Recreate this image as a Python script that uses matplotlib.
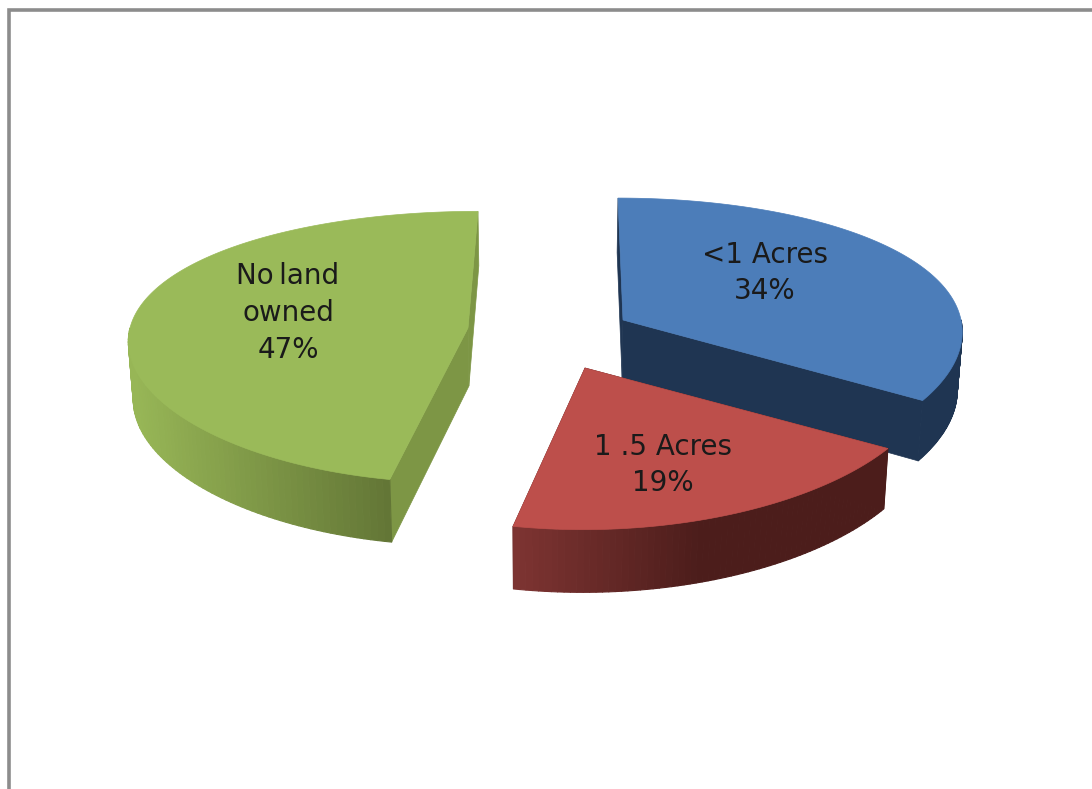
import numpy as np
import matplotlib
matplotlib.use("Agg")
import matplotlib.pyplot as plt
from matplotlib.collections import PolyCollection
from matplotlib.colors import to_rgb

# chart data
categories = ["<1 Acres", "1 .5 Acres", "No\u2009land\nowned"]
shares = [34, 19, 47]

# look of each slice
top_colors = ["#4C7DB9", "#BD4F4B", "#9ABA59"]
face_colors = ["#1F3552", "#4E1E1C", "#7D9645"]
rim_left = ["#1F3552", "#7E3432", "#97B656"]
rim_right = ["#1F3552", "#4C1D1B", "#637636"]
rim_span = [(700, 960), (513, 700), (135, 388)]
apexes = [(623, 320), (585, 368), (468, 328)]
leans = [-5, 2, 10]
heights = [139, 139, 133]
widths = [338, 346, 338]
label_pos = [(765, 273), (663, 465), (288, 313)]

PERSP = 0.14
DEPTH = 58
VANISH_X = 546


def project(i, angle):
    # angle in degrees, clockwise from the back of the pie
    a = np.radians(angle)
    x = np.sin(a)
    y = np.cos(a)
    p = 1 / (1 + PERSP * y)
    px = apexes[i][0] + leans[i] * y + x * (1 + 0.5 * (p - 1)) * widths[i]
    py = apexes[i][1] - y * p * heights[i]
    return px, py, p


def drop(px, py, p):
    # same point on the lower face of the slice
    return px + (VANISH_X - px) * 0.012, py + DEPTH * (1 + 0.5 * (p - 1))


def mix(c0, c1, t):
    t = min(max(t, 0), 1)
    return tuple(np.array(to_rgb(c0)) * (1 - t) + np.array(to_rgb(c1)) * t)


def draw_slice(ax, i, start, end):
    apex = apexes[i]

    # radial faces
    for angle in [start, end]:
        x, y, p = project(i, angle)
        bx, by = drop(x, y, p)
        ax0, ay0 = drop(apex[0], apex[1], 1.0)
        ax.fill([apex[0], x, bx, ax0], [apex[1], y, by, ay0], color=face_colors[i], lw=0.5)

    # outer wall, only the front half shows, cut in strips for the shading
    polys = []
    colors = []
    wall = [project(i, a) for a in np.linspace(max(start, 90), min(end, 270), 70)]
    for p0, p1 in zip(wall[:-1], wall[1:]):
        b0 = drop(*p0)
        b1 = drop(*p1)
        polys.append([p0[:2], p1[:2], b1, b0])
        t = ((p0[0] + p1[0]) / 2 - rim_span[i][0]) / (rim_span[i][1] - rim_span[i][0])
        colors.append(mix(rim_left[i], rim_right[i], t))
    ax.add_collection(PolyCollection(polys, facecolors=colors, edgecolors=colors, linewidths=0.8))

    # top face
    pts = [project(i, a) for a in np.linspace(start, end, 200)]
    xs = [apex[0]] + [p[0] for p in pts]
    ys = [apex[1]] + [p[1] for p in pts]
    ax.fill(xs, ys, color=top_colors[i], lw=0.5)


fig = plt.figure(figsize=(10.92, 7.89), dpi=100)
ax = fig.add_axes([0, 0, 1, 1])
ax.set_xlim(0, 1092)
ax.set_ylim(789, 0)
ax.axis("off")

# chart frame, open on the right and the bottom
ax.plot([9, 9, 1092], [789, 9.5, 9.5], color="#8C8C8C", lw=2.6, solid_joinstyle="miter")

ends = np.cumsum(shares) / np.sum(shares) * 360
starts = np.concatenate([[0], ends[:-1]])
for i in range(len(shares)):
    draw_slice(ax, i, starts[i], ends[i])
    ax.text(label_pos[i][0], label_pos[i][1], "%s\n%d%%" % (categories[i], shares[i]),
            ha="center", va="center", fontsize=20, family="DejaVu Sans",
            color="#1A1A1A", linespacing=1.39)

fig.savefig("out.png", dpi=100)
